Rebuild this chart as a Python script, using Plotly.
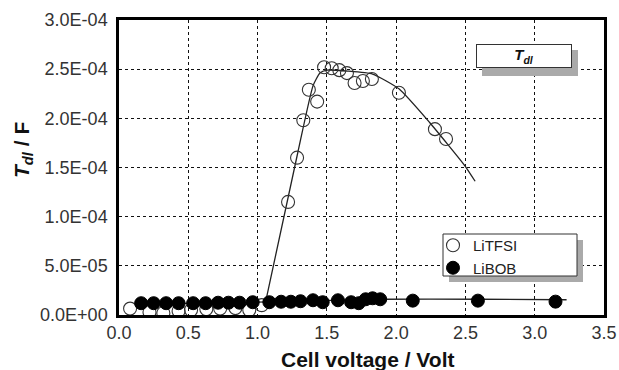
import plotly.graph_objects as go

# LiTFSI (open circles)
litfsi_x = [0.08, 0.22, 0.32, 0.43, 0.52, 0.63, 0.73, 0.84, 0.94, 1.03,
            1.22, 1.285, 1.33, 1.37, 1.43, 1.48, 1.535, 1.59, 1.645, 1.70, 1.76, 1.825,
            2.02, 2.28, 2.36]
litfsi_y = [6.5e-6, 3.0e-6, 2.0e-6, 4.0e-6, 5.0e-6, 6.0e-6, 6.5e-6, 7.0e-6, 5.0e-6, 1.0e-5,
            1.15e-4, 1.60e-4, 1.98e-4, 2.29e-4, 2.17e-4, 2.52e-4, 2.51e-4, 2.49e-4, 2.46e-4,
            2.36e-4, 2.38e-4, 2.40e-4, 2.26e-4, 1.89e-4, 1.79e-4]

# LiBOB (filled circles)
libob_x = [0.16, 0.25, 0.34, 0.43, 0.535, 0.625, 0.715, 0.79, 0.87, 0.965,
           1.085, 1.17, 1.24, 1.31, 1.40, 1.47, 1.58, 1.675, 1.73, 1.78, 1.83, 1.885,
           2.12, 2.59, 3.15]
libob_y = [1.2e-5, 1.2e-5, 1.2e-5, 1.2e-5, 1.2e-5, 1.2e-5, 1.25e-5, 1.25e-5, 1.25e-5, 1.3e-5,
           1.3e-5, 1.35e-5, 1.35e-5, 1.4e-5, 1.5e-5, 1.3e-5, 1.5e-5, 1.3e-5, 1.2e-5, 1.6e-5,
           1.7e-5, 1.6e-5, 1.46e-5, 1.46e-5, 1.36e-5]

# fitted curves
fit_tfsi_x = [1.065, 1.29, 1.40, 1.45, 1.50, 1.65, 1.83, 2.02, 2.24, 2.50, 2.57]
fit_tfsi_y = [1.8e-5, 1.65e-4, 2.33e-4, 2.46e-4, 2.49e-4, 2.48e-4, 2.45e-4,
              2.30e-4, 1.96e-4, 1.51e-4, 1.36e-4]
fit_bob_x = [0.15, 1.0, 1.9, 2.6, 3.23]
fit_bob_y = [1.1e-5, 1.3e-5, 1.6e-5, 1.6e-5, 1.55e-5]

y_ticks = [0, 5e-5, 1e-4, 1.5e-4, 2e-4, 2.5e-4, 3e-4]
y_labels = ["0.0E+00", "5.0E-05", "1.0E-04", "1.5E-04", "2.0E-04", "2.5E-04", "3.0E-04"]
x_ticks = [0, 0.5, 1.0, 1.5, 2.0, 2.5, 3.0, 3.5]

L, R, T, B = 119, 604, 20, 315
W, H = R - L, B - T


def px(x):
    return (x - L) / W


def py(y):
    return (B - y) / H


fig = go.Figure()
fig.add_trace(go.Scatter(x=fit_tfsi_x, y=fit_tfsi_y, mode="lines",
                         line=dict(color="#222", width=1.3, shape="spline", smoothing=0.5),
                         showlegend=False, hoverinfo="skip"))
fig.add_trace(go.Scatter(x=fit_bob_x, y=fit_bob_y, mode="lines",
                         line=dict(color="#222", width=1.3, shape="spline", smoothing=0.5),
                         showlegend=False, hoverinfo="skip"))
fig.add_trace(go.Scatter(x=litfsi_x, y=litfsi_y, mode="markers", name="LiTFSI",
                         marker=dict(symbol="circle", size=13, color="rgba(255,255,255,0)",
                                     line=dict(color="#333", width=1.1))))
fig.add_trace(go.Scatter(x=libob_x, y=libob_y, mode="markers", name="LiBOB",
                         marker=dict(symbol="circle", size=13, color="black",
                                     line=dict(color="black", width=1))))

font = "Arial, Liberation Sans, sans-serif"

# legend frame + shadow
fig.add_shape(type="rect", xref="paper", yref="paper",
              x0=px(449), x1=px(583), y0=py(282), y1=py(240),
              fillcolor="#aaaaaa", line=dict(width=0), layer="above")
fig.add_shape(type="rect", xref="paper", yref="paper",
              x0=px(443), x1=px(577), y0=py(276), y1=py(234),
              fillcolor="white", line=dict(width=1, color="#333"), layer="above")
# T_dl box shadow
fig.add_shape(type="rect", xref="paper", yref="paper",
              x0=px(482), x1=px(578), y0=py(76), y1=py(50),
              fillcolor="#aaaaaa", line=dict(width=0), layer="above")

fig.add_annotation(xref="paper", yref="paper",
                   x=px(476), y=py(44), xanchor="left", yanchor="top",
                   text="<b><i>T<sub>dl</sub></i></b>", showarrow=False,
                   width=92, height=20, bgcolor="white", bordercolor="#333", borderwidth=1,
                   font=dict(family=font, size=15, color="#111"), align="center")

# axis titles
fig.add_annotation(xref="paper", yref="paper", x=px(367), y=py(359),
                   xanchor="center", yanchor="middle", showarrow=False,
                   text="<b>Cell voltage / Volt</b>",
                   font=dict(family=font, size=21, color="#111"))
fig.add_annotation(xref="paper", yref="paper", x=px(23), y=py(150),
                   xanchor="center", yanchor="middle", showarrow=False, textangle=-90,
                   text="<b><i>T<sub>dl</sub></i> / F</b>",
                   font=dict(family=font, size=21, color="#111"))

fig.update_layout(
    width=619, height=370,
    margin=dict(l=L, r=619 - R, t=T, b=370 - B, autoexpand=False),
    paper_bgcolor="white", plot_bgcolor="white",
    font=dict(family=font, color="#333"),
    showlegend=True,
    legend=dict(x=px(433), y=py(229), xanchor="left", yanchor="top",
                bgcolor="rgba(0,0,0,0)", borderwidth=0,
                font=dict(family=font, size=15, color="#222"),
                itemsizing="trace", tracegroupgap=0),
    xaxis=dict(range=[0, 3.5], tickvals=x_ticks, ticktext=[f"{v:.1f}" for v in x_ticks],
               showgrid=True, gridcolor="#111", griddash="dot", gridwidth=1.2,
               showline=True, linecolor="black", linewidth=2.5, mirror=True,
               ticks="", zeroline=False, automargin=False,
               tickfont=dict(family=font, size=18, color="#333")),
    yaxis=dict(range=[0, 3e-4], tickvals=y_ticks, ticktext=y_labels,
               showgrid=True, gridcolor="#111", griddash="dot", gridwidth=1.2,
               showline=True, linecolor="black", linewidth=2.5, mirror=True,
               ticks="", zeroline=False, automargin=False, ticklabelstandoff=5,
               tickfont=dict(family=font, size=18, color="#333")),
)

fig.write_html("out.html", config={"displayModeBar": False},
               post_script="document.body.style.margin='0';")
